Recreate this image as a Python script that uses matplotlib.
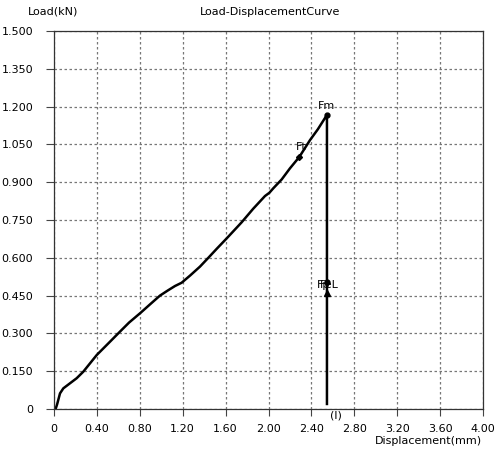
import matplotlib
matplotlib.use("Agg")
import matplotlib.pyplot as plt

disp = [0, 0.015, 0.03, 0.056, 0.087, 0.149, 0.211, 0.273, 0.398, 0.522, 0.615, 0.70, 0.808,
        0.90, 0.988, 1.06, 1.128, 1.19, 1.27, 1.361, 1.439, 1.52, 1.61, 1.75, 1.858, 1.967,
        2.008, 2.045, 2.123, 2.2, 2.287, 2.387, 2.46, 2.545, 2.545]
load = [0, 0.0, 0.02, 0.062, 0.082, 0.102, 0.122, 0.148, 0.214, 0.267, 0.307, 0.343, 0.382,
        0.417, 0.45, 0.47, 0.488, 0.501, 0.53, 0.565, 0.600, 0.637, 0.677, 0.741, 0.795, 0.845,
        0.858, 0.876, 0.911, 0.955, 1.0, 1.067, 1.11, 1.167, 0.02]

fm = (2.545, 1.167)
ft = (2.287, 1.0)
fel = (2.55, 0.504)
fpl = (2.55, 0.46)

xticks = [0, 0.4, 0.8, 1.2, 1.6, 2.0, 2.4, 2.8, 3.2, 3.6, 4.0]
xlabels = ["0", "0.40", "0.80", "1.20", "1.60", "2.00", "2.40", "2.80", "3.20", "3.60", "4.00"]
yticks = [0, 0.15, 0.3, 0.45, 0.6, 0.75, 0.9, 1.05, 1.2, 1.35, 1.5]
ylabels = ["0", "0.150", "0.300", "0.450", "0.600", "0.750", "0.900", "1.050", "1.200", "1.350", "1.500"]

plt.rcParams['font.family'] = ['DejaVu Sans']
fig = plt.figure(figsize=(4.95, 4.57), dpi=100)
ax = fig.add_axes([54/495, 1-409/457, (483-54)/495, (409-31)/457])

ax.plot(disp, load, color='black', lw=1.8, solid_joinstyle='round')
ax.plot(*fm, 'o', color='black', ms=3.5)
ax.plot(*ft, 'D', color='black', ms=3)
ax.plot(*fel, 'o', color='black', ms=3.5)
ax.plot(*fpl, '^', color='black', ms=5)

ax.text(fm[0], fm[1] + 0.015, "Fm", fontsize=8, ha='center', va='bottom')
ax.text(ft[0] - 0.03, ft[1] + 0.02, "Ft", fontsize=8, ha='left', va='bottom')
ax.text(fel[0] - 0.1, fel[1] - 0.03, "Fp", fontsize=8, ha='left', va='bottom')
ax.text(fel[0] - 0.07, fel[1] - 0.03, "FeL", fontsize=8, ha='left', va='bottom')
ax.text(fel[0] + 0.02, -0.005, "(l)", fontsize=8, ha='left', va='top')

ax.set_xlim(0, 4.0)
ax.set_ylim(0, 1.5)
ax.set_xticks(xticks)
ax.set_xticklabels(xlabels, fontsize=8)
ax.set_yticks(yticks)
ax.set_yticklabels(ylabels, fontsize=8)
ax.tick_params(axis='both', direction='out', length=6, width=0.8, color='#444444', pad=8)
ax.tick_params(axis='y', pad=9)
ax.tick_params(axis='x', length=5, pad=6)
ax.grid(True, color='#777777', linestyle=(0, (2, 2)), lw=0.9)
for s in ax.spines.values():
    s.set_color('#333333')
    s.set_linewidth(0.9)

fig.text(28/495, 1-12/457, "Load(kN)", fontsize=8, ha='left', va='center')
fig.text(270/495, 1-12/457, "Load-DisplacementCurve", fontsize=8, ha='center', va='center')
fig.text(482/495, 1-441/457, "Displacement(mm)", fontsize=8, ha='right', va='center')

fig.savefig("out.png", dpi=100, facecolor='white')
